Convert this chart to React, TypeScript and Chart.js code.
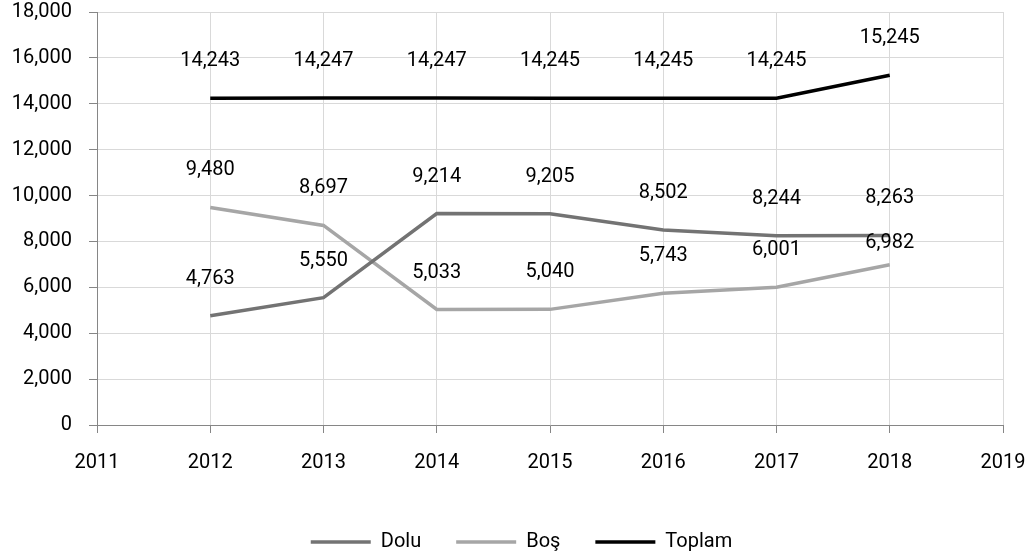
import React, { useEffect, useRef } from "react";
import { Chart, registerables } from "chart.js";

Chart.register(...registerables);

const years = [2012, 2013, 2014, 2015, 2016, 2017, 2018];
const dolu = [4763, 5550, 9214, 9205, 8502, 8244, 8263];
const bos = [9480, 8697, 5033, 5040, 5743, 6001, 6982];
const toplam = [14243, 14247, 14247, 14245, 14245, 14245, 15245];

const FONT = "Roboto";
const FS = 20;

const fmt = (v: number) => v.toLocaleString("en-US");

const labelPlugin = {
  id: "valueLabels",
  afterDatasetsDraw(chart: any) {
    const ctx = chart.ctx;
    ctx.save();
    ctx.font = `${FS}px ${FONT}`;
    ctx.fillStyle = "#000";
    ctx.textAlign = "center";
    ctx.textBaseline = "middle";
    chart.data.datasets.forEach((ds: any, di: number) => {
      const meta = chart.getDatasetMeta(di);
      meta.data.forEach((pt: any, i: number) => {
        const v = ds.data[i].y;
        let off = 37;
        if (di === 1 && i === ds.data.length - 1) off = 22;
        ctx.fillText(fmt(v), pt.x, pt.y - off);
      });
    });
    ctx.restore();
  },
};

const legendFitPlugin = {
  id: "legendFit",
  beforeInit(chart: any) {
    const lg = chart.legend;
    const origFit = lg.fit;
    lg.fit = function () {
      origFit.call(this);
      this.height = 59;
    };
    const origDraw = lg.draw;
    lg.draw = function () {
      const ctx = this.ctx;
      ctx.save();
      ctx.translate(20, 0);
      origDraw.call(this);
      ctx.restore();
    };
  },
};

export default function App() {
  const ref = useRef<HTMLCanvasElement>(null);
  useEffect(() => {
    if (!ref.current) return;
    const mk = (arr: number[]) => arr.map((v, i) => ({ x: years[i], y: v }));
    const chart = new Chart(ref.current, {
      type: "line",
      data: {
        datasets: [
          { label: "Dolu", data: mk(dolu), borderColor: "#737373", backgroundColor: "#737373", borderWidth: 3.5, pointRadius: 0, tension: 0 },
          { label: "Boş", data: mk(bos), borderColor: "#a6a6a6", backgroundColor: "#a6a6a6", borderWidth: 3.5, pointRadius: 0, tension: 0 },
          { label: "Toplam", data: mk(toplam), borderColor: "#000000", backgroundColor: "#000000", borderWidth: 3.5, pointRadius: 0, tension: 0 },
        ],
      },
      options: {
        responsive: false,
        animation: false,
        layout: { padding: { top: 12, right: 29, left: 0, bottom: 0 } },
        scales: {
          x: {
            type: "linear",
            min: 2011,
            max: 2019,
            ticks: {
              stepSize: 1,
              callback: (v: any) => String(v),
              font: { family: FONT, size: FS },
              color: "#000",
              padding: 18,
              maxRotation: 0,
            },
            grid: { color: "#d9d9d9", tickLength: 8, tickColor: "#868686" },
            border: { color: "#868686", width: 1 },
            afterFit: (s: any) => {
              s.height = 72;
              s.paddingLeft = 0;
              s.paddingRight = 0;
            },
          },
          y: {
            min: 0,
            max: 18000,
            ticks: {
              stepSize: 2000,
              callback: (v: any) => fmt(Number(v)),
              font: { family: FONT, size: FS },
              color: "#000",
              padding: 17,
            },
            grid: { color: "#d9d9d9", tickLength: 8, tickColor: "#868686" },
            border: { color: "#868686", width: 1 },
            afterFit: (s: any) => {
              s.width = 97;
              s.paddingTop = 0;
              s.paddingBottom = 0;
            },
          },
        },
        plugins: {
          legend: {
            position: "bottom",
            labels: {
              usePointStyle: true,
              pointStyle: "line",
              pointStyleWidth: 60,
              padding: 35,
              color: "#000",
              font: { family: FONT, size: FS },
            },
          },
          tooltip: { enabled: false },
        },
      },
      plugins: [labelPlugin, legendFitPlugin],
    } as any);
    return () => chart.destroy();
  }, []);
  return (
    <div style={{ position: "fixed", left: 0, top: 0, width: 1032, height: 556, background: "#fff" }}>
      <canvas ref={ref} width={1032} height={556} style={{ width: 1032, height: 556 }} />
    </div>
  );
}
